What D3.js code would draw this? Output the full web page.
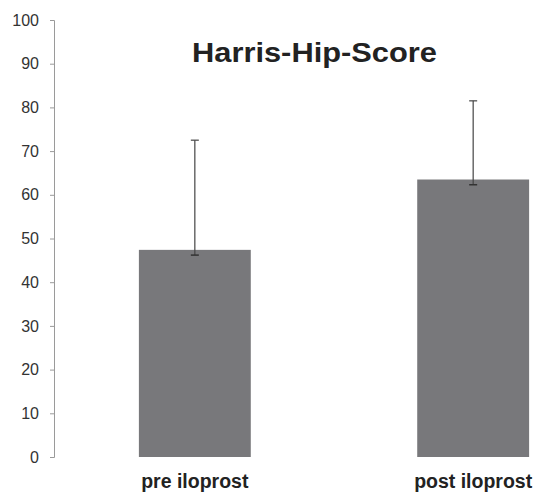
<!DOCTYPE html>
<html><head><meta charset="utf-8">
<script src="https://cdn.jsdelivr.net/npm/d3@7"></script>
<style>body{margin:0;background:#fff}svg{display:block}</style>
</head><body>
<svg id="c" width="538" height="497"></svg>
<script>
const categories = ["pre iloprost", "post iloprost"];
const means = [47.4, 63.5];
const errLow = [46.2, 62.3];
const errHigh = [72.5, 81.5];
const yTicks = [0,10,20,30,40,50,60,70,80,90,100];
const title = "Harris-Hip-Score";

const svg = d3.select("#c");
const y = d3.scaleLinear().domain([0,100]).range([457,20]);
const x = d3.scaleBand().domain(categories).range([54,614]).paddingInner(0.598).paddingOuter(0.305);

const yAxis = svg.append("g").attr("transform","translate(54,0)")
  .call(d3.axisLeft(y).tickValues(yTicks).tickSize(4).tickPadding(11).tickFormat(d3.format("d")));
yAxis.select(".domain").attr("stroke","#9a9a9a");
yAxis.selectAll(".tick line").attr("stroke","#9a9a9a");
yAxis.selectAll(".tick text").attr("fill","#333").style("font-family","Liberation Sans, Arial, sans-serif").style("font-size","16px");

svg.selectAll("rect.bar").data(categories).enter().append("rect")
  .attr("class","bar")
  .attr("x", d=>x(d)).attr("width", x.bandwidth())
  .attr("y", (d,i)=>y(means[i])).attr("height",(d,i)=>y(0)-y(means[i]))
  .attr("fill","#78787b");

const eb = svg.selectAll("g.eb").data(categories).enter().append("g").attr("class","eb");
eb.append("line").attr("x1",d=>x(d)+x.bandwidth()/2).attr("x2",d=>x(d)+x.bandwidth()/2)
  .attr("y1",(d,i)=>y(errLow[i])).attr("y2",(d,i)=>y(errHigh[i])).attr("stroke","#444").attr("stroke-width",1.2);
eb.append("line").attr("x1",d=>x(d)+x.bandwidth()/2-4).attr("x2",d=>x(d)+x.bandwidth()/2+4)
  .attr("y1",(d,i)=>y(errHigh[i])).attr("y2",(d,i)=>y(errHigh[i])).attr("stroke","#444").attr("stroke-width",1.2);
eb.append("line").attr("x1",d=>x(d)+x.bandwidth()/2-4).attr("x2",d=>x(d)+x.bandwidth()/2+4)
  .attr("y1",(d,i)=>y(errLow[i])).attr("y2",(d,i)=>y(errLow[i])).attr("stroke","#333").attr("stroke-width",1.5);

svg.selectAll("text.cat").data(categories).enter().append("text")
  .attr("class","cat")
  .attr("x", d=>x(d)+x.bandwidth()/2).attr("y", 488)
  .attr("text-anchor","middle").attr("fill","#222")
  .style("font-family","Liberation Sans, Arial, sans-serif").style("font-size","19.5px").style("font-weight","bold")
  .text(d=>d);

svg.append("text").attr("x",314.5).attr("y",62).attr("text-anchor","middle").attr("fill","#222")
  .attr("textLength",245).attr("lengthAdjust","spacingAndGlyphs")
  .style("font-family","Liberation Sans, Arial, sans-serif").style("font-size","28px").style("font-weight","bold")
  .text(title);
</script>
</body></html>
